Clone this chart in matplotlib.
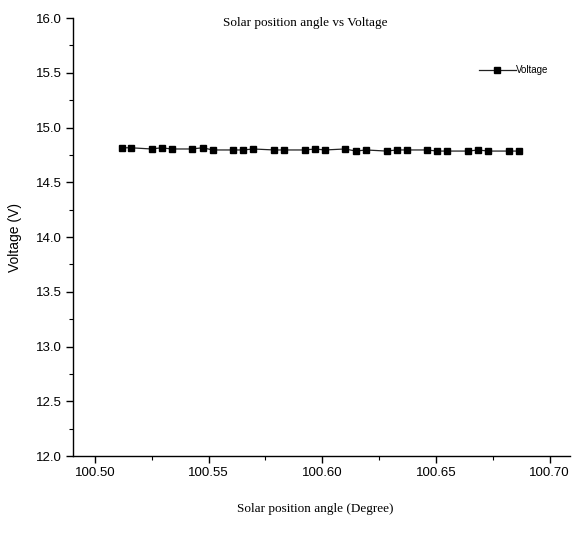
import matplotlib
matplotlib.use("Agg")
import matplotlib.pyplot as plt
from matplotlib.ticker import MultipleLocator, FormatStrFormatter

angle = [100.5117, 100.5158, 100.5249, 100.5293, 100.5337, 100.5425, 100.5474, 100.5518,
         100.5608, 100.5652, 100.5696, 100.5789, 100.5833, 100.5924, 100.5968, 100.6012,
         100.6100, 100.6148, 100.6192, 100.6283, 100.6327, 100.6374, 100.6460, 100.6507,
         100.6551, 100.6642, 100.6686, 100.6730, 100.6821, 100.6865]
voltage = [14.815, 14.815, 14.804, 14.815, 14.804, 14.804, 14.815, 14.795,
           14.795, 14.795, 14.804, 14.795, 14.795, 14.795, 14.804, 14.795,
           14.804, 14.785, 14.795, 14.785, 14.795, 14.795, 14.795, 14.785,
           14.785, 14.785, 14.795, 14.785, 14.785, 14.785]

fig = plt.figure(figsize=(5.76, 5.38), dpi=100)
ax = fig.add_axes([0.1273, 0.1524, 0.8623, 0.8141])

ax.plot(angle, voltage, color='#222222', linewidth=0.9, marker='s', markersize=5,
        markerfacecolor='black', markeredgecolor='black', label='Voltage')

ax.set_xlim(100.4905, 100.709)
ax.set_ylim(12.0, 16.0)
ax.xaxis.set_major_locator(MultipleLocator(0.05))
ax.xaxis.set_minor_locator(MultipleLocator(0.025))
ax.yaxis.set_major_locator(MultipleLocator(0.5))
ax.yaxis.set_minor_locator(MultipleLocator(0.25))
ax.xaxis.set_major_formatter(FormatStrFormatter('%.2f'))
ax.yaxis.set_major_formatter(FormatStrFormatter('%.1f'))

for s in ['top', 'right']:
    ax.spines[s].set_visible(False)
for s in ['left', 'bottom']:
    ax.spines[s].set_linewidth(1.0)

ax.tick_params(which='major', direction='out', length=5, width=1.0, labelsize=9.5,
               colors='black')
ax.tick_params(axis='x', which='major', pad=3)
ax.tick_params(which='minor', direction='out', length=3, width=0.8)
for lab in ax.get_xticklabels() + ax.get_yticklabels():
    lab.set_family(['Liberation Sans', 'DejaVu Sans'])

ax.text(0.467, 0.989, 'Solar position angle vs Voltage', transform=ax.transAxes,
        ha='center', va='center', fontsize=9.5, family=['Liberation Serif', 'DejaVu Serif'])
ax.set_xlabel('Solar position angle (Degree)', fontsize=9.5,
              family=['Liberation Serif', 'DejaVu Serif'], labelpad=17)
ax.xaxis.label.set_x(0.488)
ax.set_ylabel('Voltage (V)', fontsize=10, family=['Liberation Sans', 'DejaVu Sans'],
              labelpad=10)

leg = ax.legend(loc='center right', bbox_to_anchor=(0.956, 0.881), frameon=False,
                handlelength=3.8, handletextpad=0.0, borderpad=0, borderaxespad=0,
                markerscale=0.8,
                prop={'family': ['Liberation Sans', 'DejaVu Sans'], 'size': 7})

fig.savefig('out.png', dpi=100, facecolor='white')
